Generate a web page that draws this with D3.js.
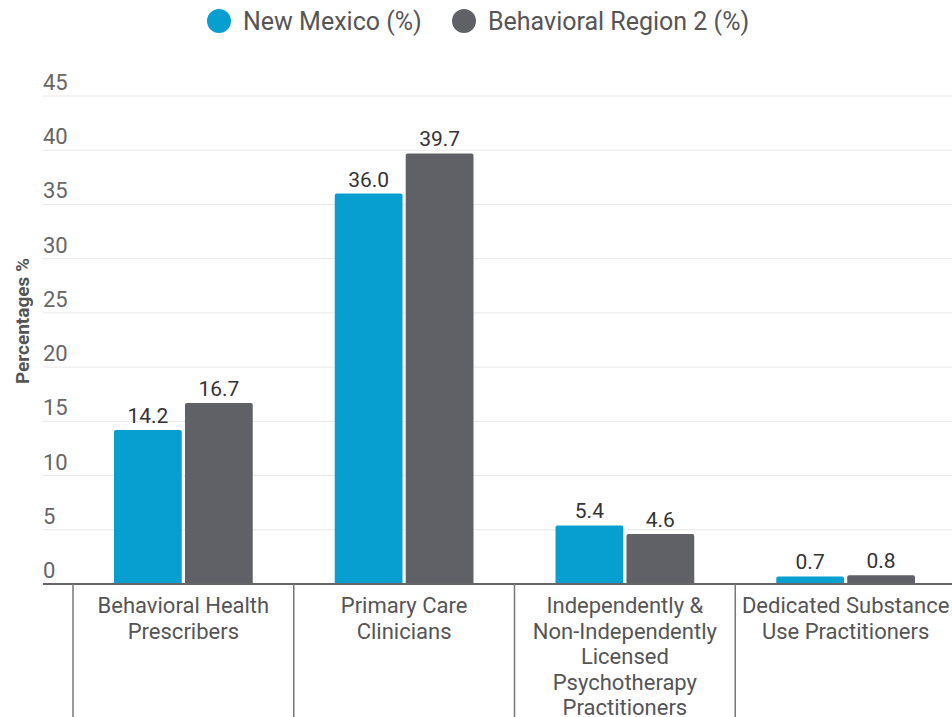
<!DOCTYPE html>
<html>
<head>
<meta charset="utf-8">
<script src="https://cdn.jsdelivr.net/npm/d3@7"></script>
<style>
  body { margin: 0; background: #fff; }
  svg { display: block; font-family: Roboto, "Noto Sans", sans-serif; }
</style>
</head>
<body>
<svg width="952" height="717"></svg>
<script>
const categories = [
  "Behavioral Health Prescribers",
  "Primary Care Clinicians",
  "Independently & Non-Independently Licensed Psychotherapy Practitioners",
  "Dedicated Substance Use Practitioners"
];
const categoryLines = [
  ["Behavioral Health", "Prescribers"],
  ["Primary Care", "Clinicians"],
  ["Independently &", "Non-Independently", "Licensed", "Psychotherapy", "Practitioners"],
  ["Dedicated Substance", "Use Practitioners"]
];
const seriesNames = ["New Mexico (%)", "Behavioral Region 2 (%)"];
const newMexico = [14.2, 36.0, 5.4, 0.7];
const region2 = [16.7, 39.7, 4.6, 0.8];
const yTicks = [0, 5, 10, 15, 20, 25, 30, 35, 40, 45];
const colors = ["#069fcf", "#5f6166"];

const width = 952, height = 717;
const svg = d3.select("svg");

const y = d3.scaleLinear().domain([0, 45]).range([584, 96]);
const x = d3.scaleBand().domain(categories).range([73, 956]);
const xs = d3.scaleBand().domain(seriesNames)
  .range([41, x.bandwidth() - 41]).paddingInner(0.045);

// gridlines + tick labels
const grid = svg.append("g");
grid.selectAll("line")
  .data(yTicks.filter(d => d > 0))
  .enter().append("line")
  .attr("x1", 43).attr("x2", width)
  .attr("y1", d => y(d)).attr("y2", d => y(d))
  .attr("stroke", "#e8e8e8").attr("stroke-width", 1);
grid.selectAll("text")
  .data(yTicks)
  .enter().append("text")
  .attr("x", 43).attr("y", d => y(d) - 6)
  .text(d => d)
  .style("font-size", "22px")
  .style("fill", "#666");

svg.append("text")
  .attr("transform", "translate(29,321) rotate(-90)")
  .attr("text-anchor", "middle")
  .text("Percentages %")
  .style("font-size", "19px")
  .style("font-weight", "700")
  .style("fill", "#555");

// bars
const rows = categories.map((c, i) => ({ cat: c, vals: [newMexico[i], region2[i]] }));
const group = svg.append("g").selectAll("g")
  .data(rows)
  .enter().append("g")
  .attr("transform", d => `translate(${x(d.cat)},0)`);

const bar = group.selectAll("g")
  .data(d => d.vals.map((v, j) => ({ name: seriesNames[j], v: v, j: j })))
  .enter().append("g");

bar.append("path")
  .attr("d", d => {
    const x0 = xs(d.name), w = xs.bandwidth(), top = y(d.v), r = 2;
    return `M${x0},584 V${top + r} Q${x0},${top} ${x0 + r},${top} H${x0 + w - r} Q${x0 + w},${top} ${x0 + w},${top + r} V584 Z`;
  })
  .attr("fill", d => colors[d.j]);

bar.append("text")
  .attr("x", d => xs(d.name) + xs.bandwidth() / 2)
  .attr("y", d => y(d.v) - 7)
  .attr("text-anchor", "middle")
  .text(d => d.v.toFixed(1))
  .style("font-size", "21px")
  .style("fill", "#333");

// x axis
svg.append("line")
  .attr("x1", 43).attr("x2", width)
  .attr("y1", 584).attr("y2", 584)
  .attr("stroke", "#666").attr("stroke-width", 2);

const ticks = svg.append("g").selectAll("g")
  .data(categories)
  .enter().append("g")
  .attr("transform", d => `translate(${x(d)},0)`);

ticks.append("line")
  .attr("x1", 0).attr("x2", 0)
  .attr("y1", 584).attr("y2", height)
  .attr("stroke", "#777").attr("stroke-width", 1.5);

ticks.append("text")
  .attr("x", x.bandwidth() / 2)
  .attr("text-anchor", "middle")
  .style("font-size", "22px")
  .style("fill", "#555")
  .selectAll("tspan")
  .data((d, i) => categoryLines[i])
  .enter().append("tspan")
  .attr("x", x.bandwidth() / 2)
  .attr("y", (d, i) => 613 + i * 25.5)
  .text(d => d);

// legend
const legend = svg.append("g").selectAll("g")
  .data(seriesNames)
  .enter().append("g")
  .attr("transform", (d, i) => `translate(${[219, 464][i]},21)`);
legend.append("circle")
  .attr("r", 12)
  .attr("fill", (d, i) => colors[i]);
legend.append("text")
  .attr("x", 24).attr("y", 9)
  .text(d => d)
  .style("font-size", "25px")
  .style("fill", "#555");
</script>
</body>
</html>
